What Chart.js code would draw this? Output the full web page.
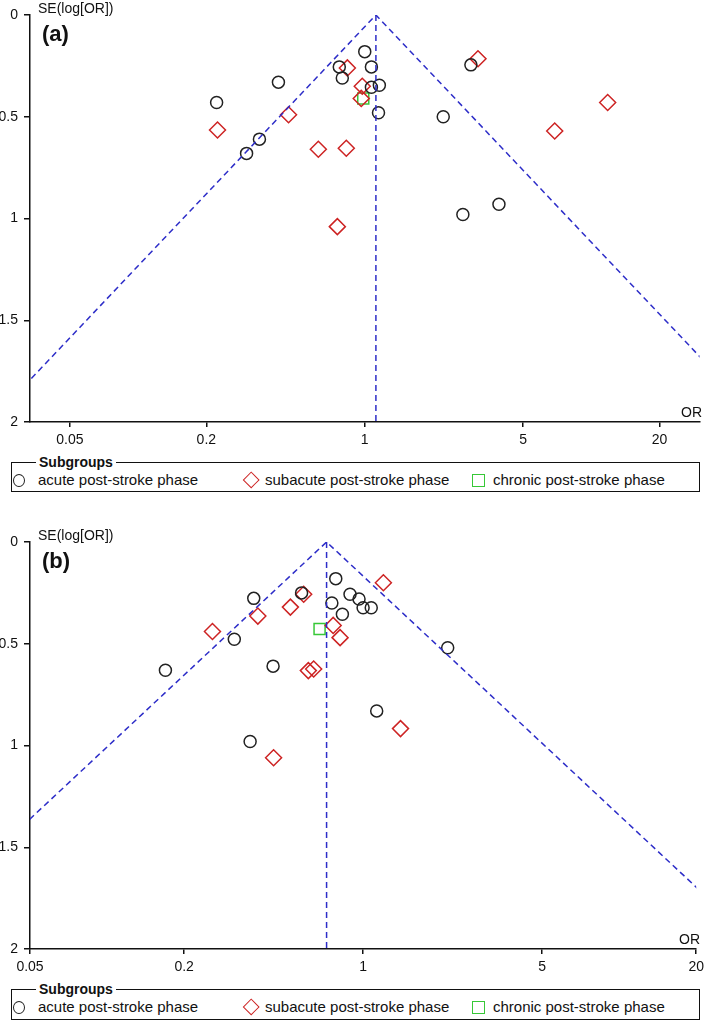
<!DOCTYPE html>
<html>
<head>
<meta charset="utf-8">
<script src="https://cdn.jsdelivr.net/npm/chart.js@4.4.1/dist/chart.umd.min.js"></script>
<style>
  body { margin: 0; background: #fff; width: 709px; height: 1022px; position: relative; overflow: hidden;
         font-family: "Liberation Sans", Arial, sans-serif; color: #111; }
  .panel { position: absolute; left: 0; width: 709px; height: 447px; }
  .txt { position: absolute; white-space: nowrap; }
  .setitle { font-size: 14px; line-height: 14px; }
  .tag { font-size: 22px; line-height: 22px; font-weight: bold; }
  .orlab { font-size: 14px; line-height: 14px; }
  .lgbox { position: absolute; left: 11px; width: 689px; border: 1.3px solid #111; box-sizing: border-box; }
  .lgtitle { position: absolute; left: 24px; top: -9px; padding: 0 3px; background: #fff;
             font-size: 14px; line-height: 16px; font-weight: bold; }
  .lgtext { position: absolute; font-size: 15px; line-height: 18px; }
  .mk { position: absolute; box-sizing: border-box; }
</style>
</head>
<body>

<div class="panel" style="top:0"><canvas id="chartA" width="709" height="447"></canvas></div>
<div class="panel" style="top:527px"><canvas id="chartB" width="709" height="447"></canvas></div>

<div class="txt setitle" style="left:38px;top:1px">SE(log[OR])</div>
<div class="txt tag" style="left:42px;top:23px">(a)</div>
<div class="txt orlab" style="left:681px;top:405px">OR</div>

<div class="txt setitle" style="left:38px;top:528px">SE(log[OR])</div>
<div class="txt tag" style="left:42px;top:550px">(b)</div>
<div class="txt orlab" style="left:679px;top:932px">OR</div>

<div id="legendA"></div>
<div id="legendB"></div>

<script>
// funnel plot (a)
const aAcuteOR = [0.222, 0.416, 0.772, 0.796, 0.343, 0.301, 1.00, 1.07, 1.07, 1.16, 1.15, 2.22, 2.94, 2.71, 3.91];
const aAcuteSE = [0.43, 0.33, 0.255, 0.31, 0.61, 0.68, 0.18, 0.255, 0.355, 0.345, 0.48, 0.50, 0.245, 0.98, 0.93];
const aSubacuteOR = [0.224, 0.461, 0.624, 0.829, 0.757, 0.838, 0.975, 0.965, 3.16, 11.8, 6.89];
const aSubacuteSE = [0.565, 0.49, 0.66, 0.655, 1.04, 0.26, 0.35, 0.41, 0.215, 0.43, 0.57];
const aChronicOR = [0.985];
const aChronicSE = [0.41];
const aPooledOR = 1.12;

// funnel plot (b)
const bAcuteOR = [0.782, 0.575, 0.374, 0.314, 0.169, 0.445, 0.362, 0.755, 0.83, 0.889, 0.964, 1.00, 1.076, 2.14, 1.13];
const bAcuteSE = [0.18, 0.25, 0.277, 0.478, 0.63, 0.61, 0.98, 0.30, 0.355, 0.257, 0.28, 0.323, 0.323, 0.52, 0.83];
const bSubacuteOR = [0.258, 0.388, 0.52, 0.586, 0.764, 0.813, 0.611, 0.641, 0.447, 1.20, 1.40];
const bSubacuteSE = [0.44, 0.364, 0.32, 0.257, 0.41, 0.47, 0.632, 0.624, 1.06, 0.20, 0.917];
const bChronicOR = [0.676];
const bChronicSE = [0.428];
const bPooledOR = 0.72;

const subgroups = ['acute post-stroke phase', 'subacute post-stroke phase', 'chronic post-stroke phase'];
const xTicks = [0.05, 0.2, 1, 5, 20];
const xTickLabels = ['0.05', '0.2', '1', '5', '20'];
const yTicks = [0, 0.5, 1, 1.5, 2];
const yTickLabels = ['0', '0.5', '1', '1.5', '2'];
const z = 1.96;

const ink = '#111';
const blue = 'rgb(45,45,200)';
const red = 'rgb(205,35,35)';
const green = 'rgb(55,200,55)';

function pts(or, se) {
  return or.map((v, i) => ({ x: v, y: se[i] }));
}

// pooled estimate +/- 1.96 SE, plus the vertical line at the pooled OR
function funnel(pooled, seMax) {
  return [
    { data: [{ x: pooled * Math.exp(-z * seMax), y: seMax }, { x: pooled, y: 0 }, { x: pooled * Math.exp(z * seMax), y: seMax }] },
    { data: [{ x: pooled, y: 0 }, { x: pooled, y: seMax }] }
  ].map(d => Object.assign(d, {
    showLine: true, pointRadius: 0, borderColor: blue, borderWidth: 1.5, borderDash: [6, 4], fill: false
  }));
}

function makeChart(id, acute, subacute, chronic, pooled, xMin, xMax) {
  const tickFont = { family: 'Liberation Sans', size: 14 };
  new Chart(document.getElementById(id), {
    type: 'scatter',
    data: {
      datasets: funnel(pooled, 2).concat([
        { label: subgroups[0], data: acute, pointStyle: 'circle', pointRadius: 6,
          borderColor: '#222', backgroundColor: 'rgba(0,0,0,0)', borderWidth: 1.5 },
        { label: subgroups[1], data: subacute, pointStyle: 'rectRot', pointRadius: 8,
          borderColor: red, backgroundColor: 'rgba(0,0,0,0)', borderWidth: 1.5 },
        { label: subgroups[2], data: chronic, pointStyle: 'rect', pointRadius: 7.8,
          borderColor: green, backgroundColor: 'rgba(0,0,0,0)', borderWidth: 1.5 }
      ])
    },
    options: {
      responsive: false,
      animation: false,
      layout: { padding: { top: 15, right: 8, left: 0, bottom: 0 } },
      plugins: { legend: { display: false }, tooltip: { enabled: false } },
      scales: {
        x: {
          type: 'logarithmic',
          min: xMin,
          max: xMax,
          afterBuildTicks: s => { s.ticks = xTicks.map(v => ({ value: v })); },
          afterFit: s => { s.height = 25; },
          ticks: { callback: (v, i) => xTickLabels[i], color: ink, font: tickFont, padding: 5, maxRotation: 0, autoSkip: false },
          grid: { drawOnChartArea: false, drawTicks: true, tickLength: 5, color: ink, lineWidth: 1.5 },
          border: { display: true, color: ink, width: 1.5 }
        },
        y: {
          reverse: true,
          min: 0,
          max: 2,
          afterBuildTicks: s => { s.ticks = yTicks.map(v => ({ value: v })); },
          afterFit: s => { s.width = 30; },
          ticks: { callback: (v, i) => yTickLabels[i], color: ink, font: tickFont, padding: 6 },
          grid: { drawOnChartArea: false, drawTicks: true, tickLength: 6, color: ink, lineWidth: 1.5 },
          border: { display: true, color: ink, width: 1.5 }
        }
      }
    }
  });
}

makeChart('chartA', pts(aAcuteOR, aAcuteSE), pts(aSubacuteOR, aSubacuteSE), pts(aChronicOR, aChronicSE), aPooledOR, 1 / 30, 30);
makeChart('chartB', pts(bAcuteOR, bAcuteSE), pts(bSubacuteOR, bSubacuteSE), pts(bChronicOR, bChronicSE), bPooledOR, 0.05, 20);

function buildLegend(el, top, height) {
  const cy = top + 18;
  el.innerHTML =
    '<div class="lgbox" style="top:' + top + 'px;height:' + height + 'px"><span class="lgtitle">Subgroups</span></div>' +
    '<div class="mk" style="left:13px;top:' + (cy - 6.5) + 'px;width:12px;height:13px;border:1.5px solid #222;border-radius:50%"></div>' +
    '<div class="txt lgtext" style="left:38px;top:' + (cy - 9) + 'px">' + subgroups[0] + '</div>' +
    '<div class="mk" style="left:245px;top:' + (cy - 6.2) + 'px;width:12.4px;height:12.4px;border:1.5px solid ' + red + ';transform:rotate(45deg)"></div>' +
    '<div class="txt lgtext" style="left:265px;top:' + (cy - 9) + 'px">' + subgroups[1] + '</div>' +
    '<div class="mk" style="left:472px;top:' + (cy - 6.5) + 'px;width:13px;height:13px;border:1.5px solid ' + green + '"></div>' +
    '<div class="txt lgtext" style="left:493px;top:' + (cy - 9) + 'px">' + subgroups[2] + '</div>';
}
buildLegend(document.getElementById('legendA'), 462, 30);
buildLegend(document.getElementById('legendB'), 989, 31);
</script>
</body>
</html>
